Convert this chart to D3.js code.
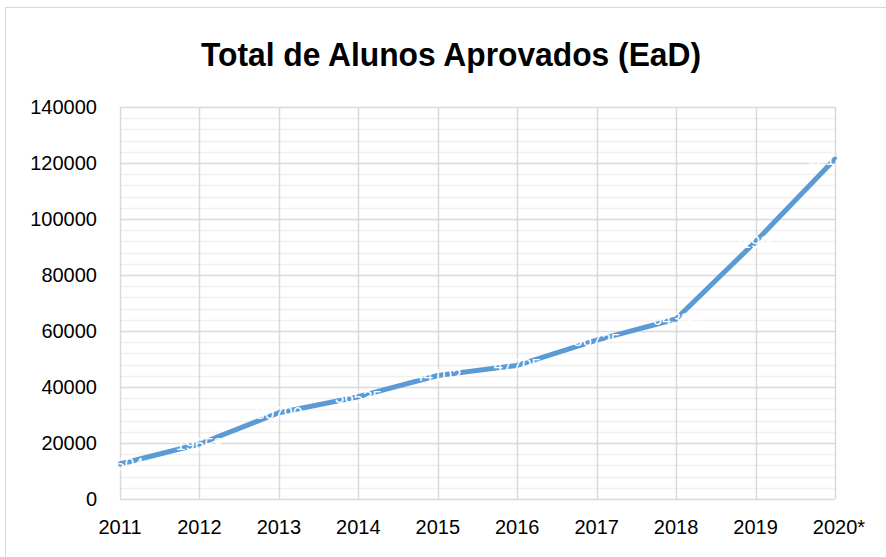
<!DOCTYPE html>
<html>
<head>
<meta charset="utf-8">
<script src="https://cdn.jsdelivr.net/npm/d3@7"></script>
<style>
  body { margin: 0; background: #fff; }
  svg { display: block; font-family: "Liberation Sans", Arial, sans-serif; }
</style>
</head>
<body>
<svg id="chart"></svg>
<script>
// data
const years = ['2011', '2012', '2013', '2014', '2015', '2016', '2017', '2018', '2019', '2020*'];
const aprovados = [12504, 19658, 30790, 36535, 44102, 47705, 56725, 64300, 91900, 121400];
const yTicks = [0, 20000, 40000, 60000, 80000, 100000, 120000, 140000];

const width = 886, height = 557;
const margin = {top: 107, right: 51, bottom: 58, left: 120};

const svg = d3.select('#chart')
    .attr('width', width)
    .attr('height', height);

// outer frame
svg.append('rect')
    .attr('x', 5.5).attr('y', 7.5)
    .attr('width', width).attr('height', height)
    .attr('fill', 'none')
    .attr('stroke', '#d9d9d9');

const innerW = width - margin.left - margin.right;
const innerH = height - margin.top - margin.bottom;

const chart = svg.append('g')
    .attr('transform', `translate(${margin.left},${margin.top})`);

const xScale = d3.scalePoint()
    .domain(years)
    .range([0, innerW]);

const yScale = d3.scaleLinear()
    .domain([0, 140000])
    .range([innerH, 0]);

// minor horizontal grid (every 4000)
chart.selectAll('.minor')
    .data(d3.range(4000, 140000, 4000).filter(v => v % 20000 !== 0))
    .join('line')
    .attr('class', 'minor')
    .attr('x1', 0).attr('x2', innerW)
    .attr('y1', d => Math.round(yScale(d)) + 0.5)
    .attr('y2', d => Math.round(yScale(d)) + 0.5)
    .attr('stroke', '#f0f0f0')
    .attr('stroke-width', 1.5);

// major horizontal grid
chart.selectAll('.hgrid')
    .data(yTicks)
    .join('line')
    .attr('class', 'hgrid')
    .attr('x1', 0).attr('x2', innerW)
    .attr('y1', d => Math.round(yScale(d)) + 0.5)
    .attr('y2', d => Math.round(yScale(d)) + 0.5)
    .attr('stroke', '#d9d9d9')
    .attr('stroke-width', 1.5);

// vertical grid
chart.selectAll('.vgrid')
    .data(years)
    .join('line')
    .attr('class', 'vgrid')
    .attr('x1', d => Math.round(xScale(d)) + 0.5)
    .attr('x2', d => Math.round(xScale(d)) + 0.5)
    .attr('y1', 0).attr('y2', innerH)
    .attr('stroke', '#d9d9d9')
    .attr('stroke-width', 1.5);

// y labels
chart.selectAll('.ylab')
    .data(yTicks)
    .join('text')
    .attr('class', 'ylab')
    .attr('x', -23)
    .attr('y', d => yScale(d))
    .attr('dy', '0.35em')
    .attr('text-anchor', 'end')
    .style('font-size', '20px')
    .attr('fill', '#000')
    .text(d => d);

// x labels
chart.selectAll('.xlab')
    .data(years)
    .join('text')
    .attr('class', 'xlab')
    .attr('x', d => xScale(d) + (d.endsWith('*') ? 4 : 0))
    .attr('y', innerH + 35)
    .attr('text-anchor', 'middle')
    .style('font-size', '20px')
    .attr('fill', '#000')
    .text(d => d);

// line
const line = d3.line()
    .x((d, i) => xScale(years[i]))
    .y(d => yScale(d));

chart.append('path')
    .datum(aprovados)
    .attr('d', line)
    .attr('fill', 'none')
    .attr('stroke', '#5b9bd5')
    .attr('stroke-width', 5)
    .attr('stroke-linecap', 'round')
    .attr('stroke-linejoin', 'round');

// data labels (white, almost invisible)
chart.selectAll('.dlab')
    .data(aprovados)
    .join('text')
    .attr('class', 'dlab')
    .attr('x', (d, i) => xScale(years[i]))
    .attr('y', d => yScale(d))
    .attr('dy', '0.35em')
    .attr('text-anchor', 'middle')
    .style('font-size', '17px')
    .attr('fill', '#fff')
    .text(d => d);

// title
svg.append('text')
    .attr('x', 451)
    .attr('y', 66)
    .attr('text-anchor', 'middle')
    .attr('textLength', 500)
    .attr('lengthAdjust', 'spacingAndGlyphs')
    .style('font-size', '33px')
    .style('font-weight', 'bold')
    .attr('fill', '#000')
    .text('Total de Alunos Aprovados (EaD)');
</script>
</body>
</html>
